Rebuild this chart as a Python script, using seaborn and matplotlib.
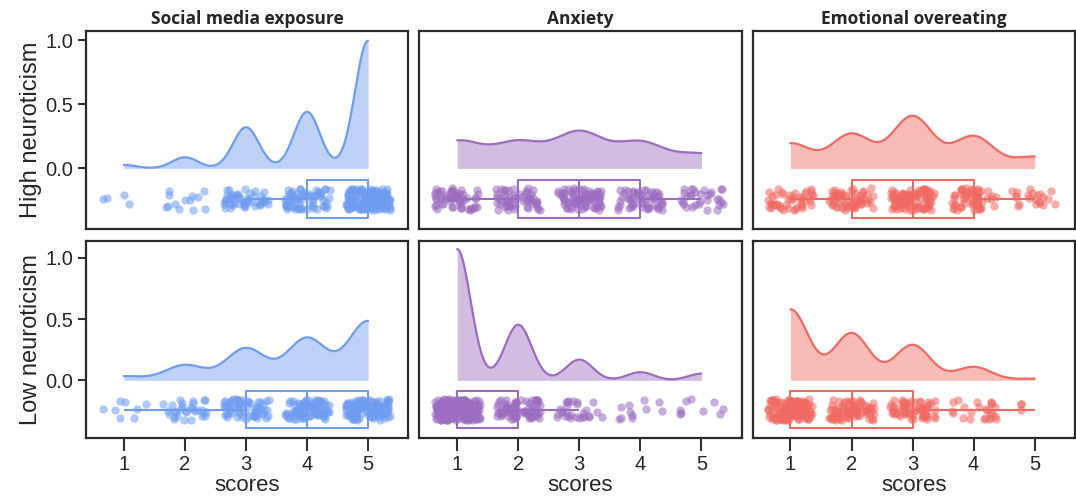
import numpy as np
import matplotlib
matplotlib.use("Agg")
import matplotlib.pyplot as plt
import seaborn as sns

scores = [1, 2, 3, 4, 5]
groups = ["High neuroticism", "Low neuroticism"]
measures = ["Social media exposure", "Anxiety", "Emotional overeating"]

# respondents at each score 1..5
high_social = [4, 13, 48, 66, 149]
high_anxiety = [59, 56, 78, 56, 31]
high_eating = [45, 62, 94, 58, 21]
low_social = [8, 30, 63, 83, 116]
low_anxiety = [177, 75, 28, 11, 9]
low_eating = [126, 84, 63, 24, 3]

counts = [[high_social, high_anxiety, high_eating],
          [low_social, low_anxiety, low_eating]]

colors = ["#6f9cf0", "#9c6cc0", "#f06a63"]
# kde bandwidth (score units) per panel
bandwidths = [[0.213, 0.40, 0.33],
              [0.32, 0.22, 0.29]]
row_ylim = [(-0.47, 1.07), (-0.47, 1.14)]

sns.set_style("ticks")
plt.rcParams['font.family'] = ['Liberation Sans', 'DejaVu Sans']

np.random.seed(3)
rng = np.random.default_rng(11)

fig, axes = plt.subplots(2, 3, figsize=(10.76, 5.04), dpi=100)
fig.subplots_adjust(left=0.080, right=0.999, top=0.938, bottom=0.131,
                    wspace=0.034, hspace=0.06)

box_y = -0.24

for i, g in enumerate(groups):
    for j, m in enumerate(measures):
        ax = axes[i, j]
        c = colors[j]
        vals = np.repeat(scores, counts[i][j]).astype(float)
        bw = bandwidths[i][j] / vals.std(ddof=1)

        # half violin
        sns.kdeplot(x=vals, bw_method=bw, cut=0, fill=True, color=c,
                    alpha=0.45, linewidth=0, ax=ax)
        sns.kdeplot(x=vals, bw_method=bw, cut=0, color=c, linewidth=1.6, ax=ax)

        # rain: jittered points (horizontal display jitter only)
        xs = vals + rng.uniform(-0.37, 0.37, len(vals))
        sns.stripplot(x=xs, y=np.full(len(vals), box_y), orient='h',
                      native_scale=True, jitter=0.085, size=6, alpha=0.55,
                      color=c, linewidth=0, ax=ax)

        sns.boxplot(x=vals, y=np.full(len(vals), box_y), orient='h',
                    native_scale=True, width=0.3, fill=False, showfliers=False,
                    showcaps=False, color=c, linewidth=1.5, ax=ax)

        ax.set_xlim(0.38, 5.66)
        ax.set_ylim(*row_ylim[i])
        ax.set_xticks(scores)
        ax.set_yticks([0.0, 0.5, 1.0])
        ax.set_xlabel('')
        ax.set_ylabel('')

        for sp in ax.spines.values():
            sp.set_visible(True)
            sp.set_linewidth(1.6)
            sp.set_color('#2a2a2a')

        ax.tick_params(axis='both', labelsize=14.5, width=1.5, color='#333333')
        ax.tick_params(axis='x', length=9, pad=3)
        ax.tick_params(axis='y', length=6, pad=3)

        if i == 0:
            ax.set_title(m, fontsize=12.5, fontweight='bold',
                         family=['Open Sans', 'DejaVu Sans'], pad=5)
            ax.tick_params(axis='x', bottom=False, labelbottom=False)
        else:
            ax.set_xlabel('scores', fontsize=16, labelpad=1)

        if j == 0:
            ax.set_yticklabels(['0.0', '0.5', '1.0'])
            ax.set_ylabel(g, fontsize=17, labelpad=3)
        else:
            ax.tick_params(axis='y', left=False, labelleft=False)

fig.savefig('out.png', dpi=100)
